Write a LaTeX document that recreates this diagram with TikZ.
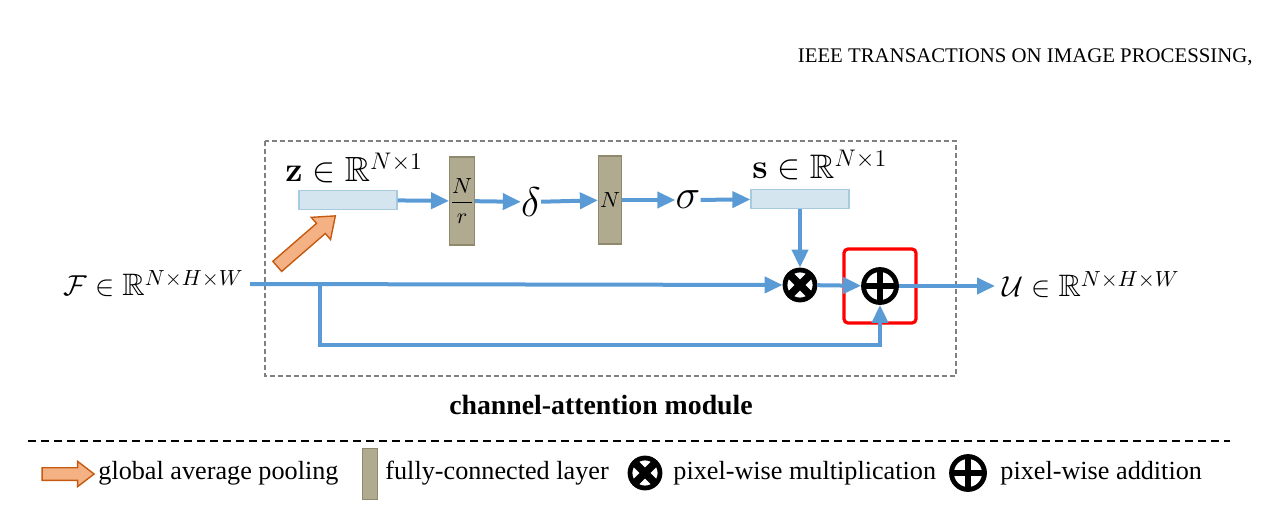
\documentclass[tikz,border=0pt]{standalone}
\usepackage[no-math]{fontspec}
\setmainfont{Liberation Serif}
\usepackage{amsmath,amssymb}
\usetikzlibrary{arrows.meta,shapes.arrows}
\definecolor{flowblue}{HTML}{5B9BD5}
\definecolor{vecfill}{HTML}{D5E5EF}
\definecolor{vecline}{HTML}{A6CBE0}
\definecolor{fcfill}{HTML}{B0AA90}
\definecolor{fcline}{HTML}{8F8A6E}
\definecolor{poolfill}{HTML}{F4B183}
\definecolor{poolline}{HTML}{C55A11}
\begin{document}
\begin{tikzpicture}
		[x=0.5pt,y=-0.5pt,
		flow/.style={draw=flowblue,line width=2pt,-{Triangle[length=9pt,width=8pt]}},
		vecbox/.style={rectangle,draw=vecline,fill=vecfill,line width=0.6pt,minimum width=49pt,minimum height=9.5pt,inner sep=0pt},
		fcbox/.style={rectangle,draw=fcline,fill=fcfill,line width=0.6pt,minimum width=11.5pt,minimum height=44pt,inner sep=0pt,font=\fontsize{10.5}{12}\selectfont},
		mathlbl/.style={inner sep=0pt,font=\fontsize{15.5}{18}\selectfont},
		greek/.style={inner sep=0pt,font=\fontsize{20}{24}\selectfont},
		txt/.style={inner sep=0pt,font=\fontsize{13.1}{15}\selectfont},
		pool/.style={single arrow,draw=poolline,fill=poolfill,line width=0.7pt,inner xsep=0pt,inner ysep=3pt,single arrow head extend=4pt,single arrow tip angle=75},
		mulop/.style={circle,draw,line width=2.4pt,minimum size=15pt,inner sep=0pt,path picture={\draw[line width=3.8pt] (path picture bounding box.north west)--(path picture bounding box.south east) (path picture bounding box.north east)--(path picture bounding box.south west);}},
		addop/.style={circle,draw,line width=2.4pt,minimum size=16.5pt,inner sep=0pt,path picture={\draw[line width=3.4pt] (path picture bounding box.north)--(path picture bounding box.south) (path picture bounding box.west)--(path picture bounding box.east);}}]
		\useasboundingbox (0,0) rectangle (1267,523);
		\node (Header) [anchor=base east,inner sep=0pt,font=\fontsize{10.4}{12}\selectfont] at (1253,63) {IEEE TRANSACTIONS ON IMAGE PROCESSING,};
		\draw[gray,dashed,line width=1.2pt,dash pattern=on 2.5pt off 1.5pt] (265,141) rectangle (956,376);
		% squeeze and excitation branch
		\node (ZVec) [vecbox] at (348,200) {};
		\node (ZLabel) [mathlbl,font=\fontsize{17.5}{20}\selectfont,anchor=base west] at (285,182) {$\mathbf{z}\in\mathbb{R}^{N\times 1}$};
		\node (FcDown) [fcbox] at (462,201) {$\dfrac{N}{r}$};
		\node (Delta) [greek] at (531,202) {$\delta$};
		\node (FcUp) [fcbox] at (610,200) {$N$};
		\node (Sigma) [greek] at (688,200) {$\sigma$};
		\node (SVec) [vecbox] at (800,199) {};
		\node (SLabel) [mathlbl,font=\fontsize{17}{20}\selectfont,anchor=base west] at (752,179) {$\mathbf{s}\in\mathbb{R}^{N\times 1}$};
		\draw[flow] (ZVec) -- (FcDown);
		\draw[flow] (FcDown) -- (Delta);
		\draw[flow] (Delta) -- (FcUp);
		\draw[flow] (FcUp) -- (Sigma);
		\draw[flow] (Sigma) -- (SVec);
		\node (Pool) [pool,rotate=41,minimum height=38.5pt] at (303,244) {};
		% main path
		\node (FIn) [mathlbl,anchor=base east] at (244,296) {$\mathcal{F}\in\mathbb{R}^{N\times H\times W}$};
		\node (UOut) [mathlbl,anchor=base west] at (1002,297) {$\mathcal{U}\in\mathbb{R}^{N\times H\times W}$};
		\node (Focus) [draw=red,line width=1.6pt,rounded corners=2pt,minimum width=36pt,minimum height=37pt] at (880,286) {};
		\node (Mul) [mulop] at (800,285) {};
		\node (Add) [addop] at (880,286) {};
		\coordinate (FEnd) at (250,284);
		\coordinate (Split) at (320,284);
		\draw[flow] (FEnd) -- (Mul);
		\draw[flow] (SVec) -- (Mul);
		\draw[flow] (Mul) -- (Add);
		\draw[flow] (Split) -- ++(0,61) -| (Add.south);
		\draw[flow] (Add) -- (995,286);
		\node (Module) [txt,font=\fontsize{13.9}{16}\selectfont\bfseries] at (601,405) {channel-attention module};
		% legend
		\draw[dashed,line width=0.8pt,dash pattern=on 4pt off 2.5pt] (28,441) -- (1230,441);
		\node (PoolKey) [pool,minimum height=26pt,inner ysep=2.8pt,single arrow head extend=3.2pt] at (64,474) {};
		\node (PoolText) [txt,anchor=west] at (98,473) {global average pooling};
		\node (FcKey) [fcbox,minimum width=7.5pt,minimum height=25.5pt] at (370,474) {};
		\node (FcText) [txt,anchor=west] at (385,473) {fully-connected layer};
		\node (MulKey) [mulop] at (645,473) {};
		\node (MulText) [txt,anchor=west] at (673,473) {pixel-wise multiplication};
		\node (AddKey) [addop] at (968,473) {};
		\node (AddText) [txt,anchor=west] at (1000,473) {pixel-wise addition};
	\end{tikzpicture}
\end{document}
